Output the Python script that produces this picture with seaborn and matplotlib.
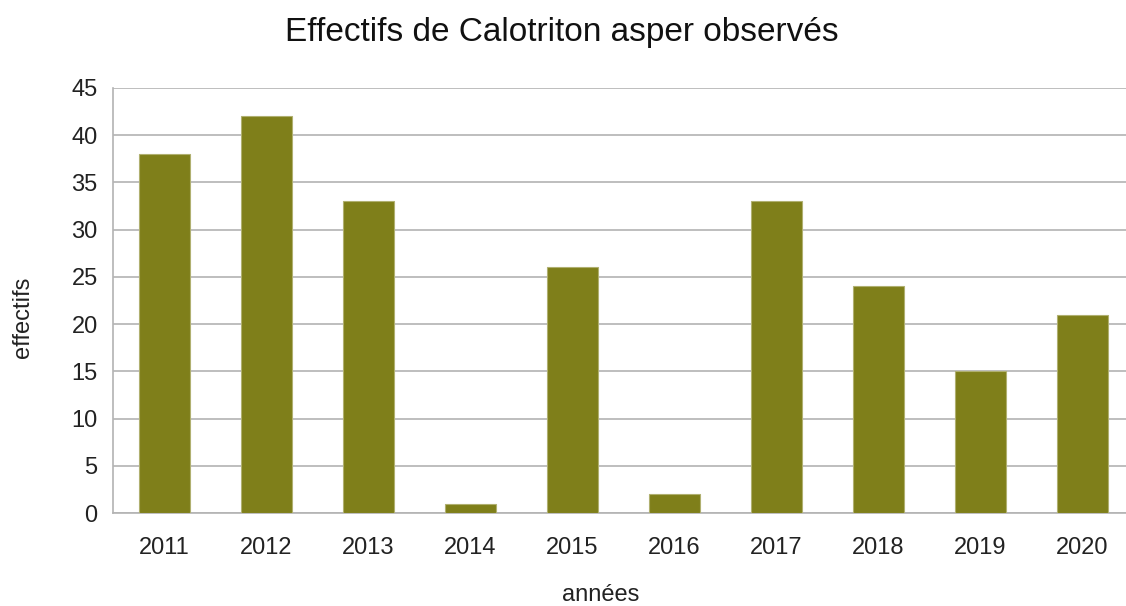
import numpy as np
import pandas as pd
import seaborn as sns
import matplotlib.pyplot as plt

# data
annees = ["2011", "2012", "2013", "2014", "2015", "2016", "2017", "2018", "2019", "2020"]
effectifs = [38, 42, 33, 1, 26, 2, 33, 24, 15, 21]

df = pd.DataFrame({"annees": annees, "effectifs": effectifs})

sns.set_style("white")
plt.rcParams["font.family"] = ["Liberation Sans", "DejaVu Sans"]

grid_col = "#b3b3b3"
txt_col = "#222222"

fig = plt.figure(figsize=(11.26, 6.06), dpi=100)
# plot area runs slightly past the right edge of the image, like the original
ax = fig.add_axes([113 / 1126, 93 / 606, 1020 / 1126, 425 / 606])

sns.barplot(data=df, x="annees", y="effectifs", color="#7f7f1a", width=0.5,
            saturation=1, edgecolor="#b0b070", linewidth=0.8, ax=ax, zorder=3)

ax.set_xlim(-0.5, 9.5)
ax.set_ylim(0, 45)
ax.set_yticks(np.arange(0, 46, 5))
ax.yaxis.grid(True, color=grid_col, linewidth=1.2, zorder=0)
ax.set_axisbelow(True)

# category boundary ticks on x axis
ax.set_xticks(np.arange(-0.5, 10, 1), minor=True)
ax.tick_params(axis="x", which="major", length=0, labelsize=17, pad=17, colors=txt_col)
ax.tick_params(axis="x", which="minor", length=9, width=1.2, color=grid_col, direction="out")
ax.tick_params(axis="y", length=9, width=1.2, color=grid_col, labelsize=17, pad=2, labelcolor=txt_col)

for s in ["top", "right"]:
    ax.spines[s].set_visible(False)
for s in ["left", "bottom"]:
    ax.spines[s].set_color(grid_col)
    ax.spines[s].set_linewidth(1.2)

ax.set_xlabel("années", fontsize=17, color=txt_col, va="center", ha="center")
ax.xaxis.set_label_coords(0.478, -0.193)
ax.set_ylabel("effectifs", fontsize=17, color=txt_col, va="center", ha="center")
ax.yaxis.set_label_coords(-0.0882, 0.461)
fig.suptitle("Effectifs de Calotriton asper observés", fontsize=24, y=0.947, x=0.4987,
             va="center", color="#111111")

fig.savefig("out.png", dpi=100)
